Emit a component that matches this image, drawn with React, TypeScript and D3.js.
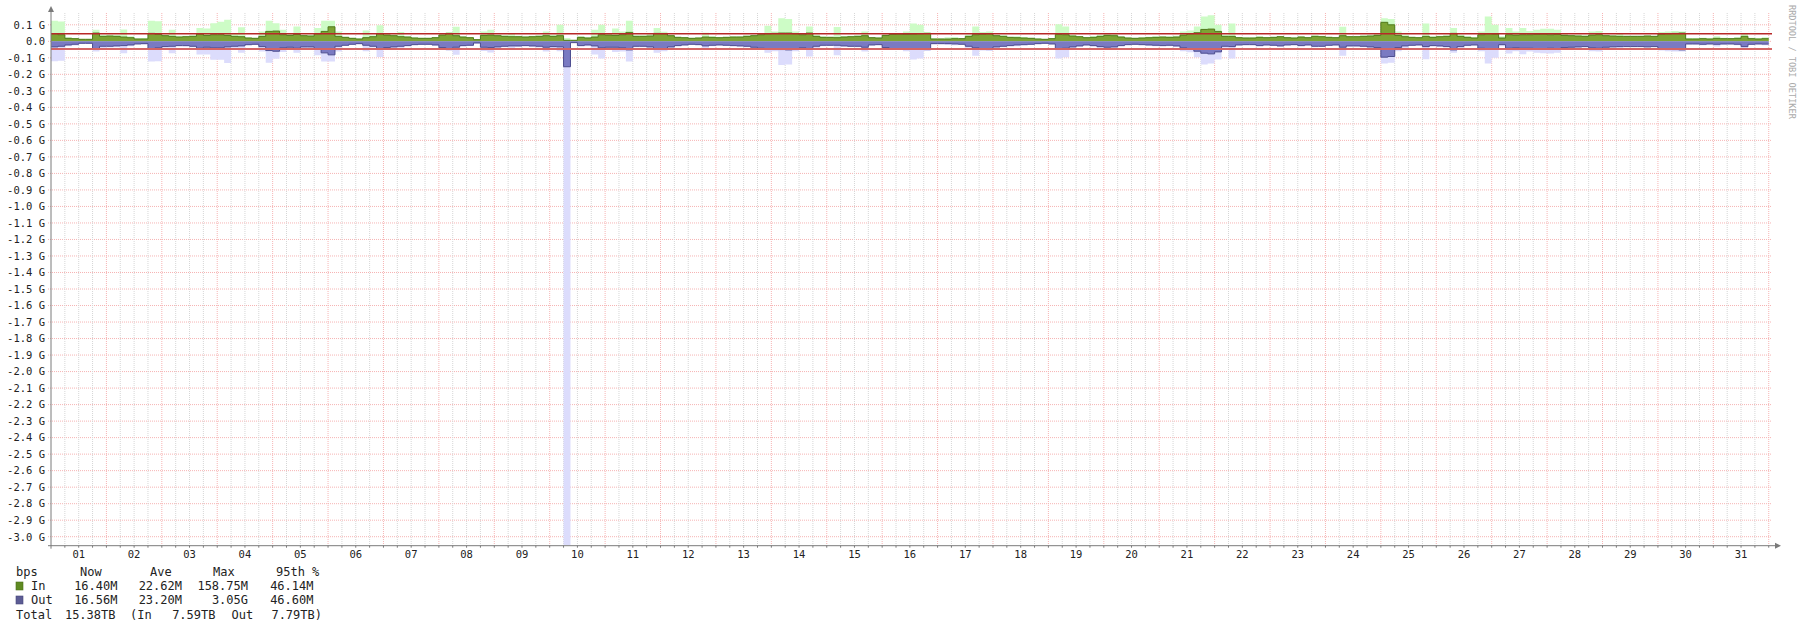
import React from "react";
import * as d3 from "d3";

// ---- data (Mbps, 3-hour bins, 31 days) ----
const dayLabels = ["01","02","03","04","05","06","07","08","09","10","11","12","13","14","15","16","17","18","19","20","21","22","23","24","25","26","27","28","29","30","31"];
const yTickValues = [100,0,-100,-200,-300,-400,-500,-600,-700,-800,-900,-1000,-1100,-1200,-1300,-1400,-1500,-1600,-1700,-1800,-1900,-2000,-2100,-2200,-2300,-2400,-2500,-2600,-2700,-2800,-2900,-3000];

const inAvg = [
  46,40,18,16,12,12,50,30, 32,30,26,22,14,14,48,42, 34,30,26,28,30,44,36,40, 40,36,30,28,20,18,30,60,
  62,40,36,42,34,32,46,60, 88,30,24,18,14,22,28,46, 38,34,28,26,20,18,18,22, 38,48,34,26,22,10,36,38,
  34,30,28,28,26,28,30,34, 30,34,6,6,24,20,26,40, 38,36,40,54,30,30,32,48, 46,34,24,22,18,20,26,24,
  22,24,26,26,30,34,40,46, 48,50,50,46,40,50,30,24, 24,22,26,28,30,34,22,20, 36,42,44,42,44,46,48,14,
  14,14,16,16,30,40,44,46, 34,30,24,22,20,18,14,12, 16,42,40,32,28,22,24,30, 36,34,26,20,18,20,22,24,
  26,24,26,38,46,52,72,74, 60,30,30,22,20,20,24,22, 24,28,22,20,26,22,30,28, 24,22,34,28,28,30,32,36,
  115,100,36,28,24,22,30,24, 28,30,48,30,24,20,40,46, 44,20,40,38,40,40,42,44, 40,42,36,34,32,30,38,40,
  34,32,30,30,30,30,32,30, 44,46,48,50,14,14,16,14, 18,16,16,18,30,16,14,16
];
const outAvg = [
  34,30,22,18,12,12,44,30, 30,28,26,22,16,14,48,40, 32,30,26,26,30,42,36,40, 40,34,30,28,20,18,32,56,
  60,40,36,42,34,34,48,70, 82,30,24,18,14,24,30,46, 38,34,30,26,20,18,18,22, 38,50,36,26,24,10,36,38,
  34,30,28,28,26,28,30,36, 32,34,154,8,26,22,28,40, 36,36,40,52,30,30,34,48, 48,34,26,22,18,20,28,24,
  22,24,26,28,30,36,42,48, 48,50,52,48,40,48,30,24, 24,24,28,30,30,36,22,20, 38,44,46,44,46,48,50,14,
  14,14,16,18,30,40,46,44, 34,30,26,22,20,18,14,12, 16,44,42,34,28,22,26,32, 36,34,26,20,18,20,22,24,
  26,24,28,40,48,60,72,76, 64,30,32,22,20,20,26,22, 24,28,22,20,26,22,30,30, 24,22,36,28,28,30,34,38,
  96,92,38,28,24,22,32,26, 28,32,52,32,24,22,42,48, 46,20,42,40,42,42,44,46, 42,44,38,36,34,32,40,42,
  36,34,32,32,32,32,34,32, 46,48,50,52,16,16,18,16, 18,16,16,18,32,18,16,17
];
const inMax = [
  125,120,25,20,15,15,70,38, 40,38,72,30,18,20,125,122, 40,70,34,34,36,80,78,110, 118,130,50,85,24,22,60,125,
  110,70,44,90,40,40,80,125, 125,60,28,22,18,66,36,98, 45,42,56,30,24,22,22,26, 44,55,88,30,26,14,60,70,
  40,36,46,34,30,34,36,60, 40,100,20,10,30,26,70,100, 48,78,60,125,36,36,44,80, 58,40,28,26,22,24,52,30,
  26,28,30,30,36,40,50,95, 60,140,135,60,48,90,40,30, 28,86,32,34,36,60,26,24, 40,48,50,60,108,100,56,18,
  18,24,26,20,40,90,56,60, 40,36,28,30,26,22,18,16, 20,104,90,40,32,26,32,40, 48,44,30,24,22,24,28,30,
  30,30,34,60,66,90,150,158, 100,40,108,26,24,24,30,26, 28,32,26,24,30,26,36,34, 28,26,88,32,32,36,40,44,
  140,135,60,40,28,26,108,30, 34,36,80,40,30,26,60,150, 100,30,80,60,80,62,70,76, 76,70,44,40,40,36,60,62,
  40,36,48,34,34,34,36,34, 56,60,62,60,20,20,22,20, 30,22,20,24,50,22,20,24
];
const outMax = [
  120,118,30,25,16,16,62,40, 38,36,72,30,18,20,122,120, 38,72,30,32,36,80,80,112, 112,132,52,70,26,22,62,130,
  105,64,44,70,40,44,85,122, 122,62,28,22,18,60,38,95, 45,44,52,30,24,22,22,28, 44,56,82,32,28,14,58,68,
  40,36,50,34,30,34,38,62, 40,60,3050,10,30,30,80,104, 48,64,62,122,36,36,46,70, 60,40,30,26,22,24,50,30,
  26,28,30,32,36,42,52,70, 60,144,140,60,50,92,42,30, 28,84,32,34,36,62,26,24, 40,48,50,60,110,104,58,18,
  18,22,24,20,40,88,56,58, 40,36,30,30,26,22,18,16, 20,104,96,40,32,26,32,40, 48,44,30,24,22,24,28,30,
  30,30,34,60,66,96,140,135, 110,40,104,26,24,24,30,26, 28,32,26,24,30,26,36,34, 28,26,88,32,32,36,40,44,
  134,130,60,40,28,26,108,30, 34,36,70,40,30,26,60,135, 100,30,74,60,78,62,70,72, 74,70,46,40,40,36,60,62,
  40,36,46,34,34,34,36,34, 56,60,62,62,20,20,24,20, 32,22,20,24,50,22,20,24
];
const pct95 = { inV: 46.14, outV: 46.6 };
const legendHeader = ["Now", "Ave", "Max", "95th %"];
const legendIn = ["16.40M", "22.62M", "158.75M", "46.14M"];
const legendOut = ["16.56M", "23.20M", "3.05G", "46.60M"];
const legendTotal = ["15.38TB", "7.59TB", "7.79TB"];

const STEP_H = 3;
const HOURS = 744;

export default function App() {
  const X0 = 51, PXH = 2.3088, XR = 1772;
  const YT = 13, YB = 545.7;
  const x = d3.scaleLinear().domain([0, HOURS]).range([X0, X0 + HOURS * PXH]);
  const y = d3.scaleLinear().domain([-3000, 100]).range([536.7, 24.8]);
  const mono = "'DejaVu Sans Mono', monospace";

  const toPts = (arr: number[], sign: number) => {
    const p = arr.map((v, i) => ({ t: i * STEP_H, v: sign * v }));
    p.push({ t: HOURS, v: sign * arr[arr.length - 1] });
    return p;
  };
  const area = d3.area<{ t: number; v: number }>()
    .x(d => x(d.t)).y0(y(0)).y1(d => Math.max(YT, Math.min(YB, y(d.v))))
    .curve(d3.curveStepAfter);
  const line = d3.line<{ t: number; v: number }>()
    .x(d => x(d.t)).y(d => y(d.v)).curve(d3.curveStepAfter);

  const minor: number[] = [];
  for (let h = 6; h <= HOURS; h += 6) minor.push(h);

  const legendCols = [117.5, 182, 248, 313.5];
  const headerX = [80, 150, 213, 276];
  const rowY = [576.2, 590.4, 604.4, 618.5];

  return (
    <svg width={1800} height={628} style={{ position: "absolute", left: 0, top: 0, background: "#fff" }}
      fontFamily={mono}>
      <rect x={0} y={0} width={1800} height={628} fill="#fff" />
      {/* horizontal grid */}
      {yTickValues.map(v => (
        <line key={"h" + v} x1={48} x2={XR} y1={y(v)} y2={y(v)} stroke="#f6b4b4" strokeWidth={1} strokeDasharray="1,1" />
      ))}
      {/* vertical grid */}
      {minor.map(h => (
        <line key={"v" + h} x1={x(h)} x2={x(h)} y1={YT} y2={YB}
          stroke={h % 24 === 0 ? "#f6b4b4" : "#d6d6d6"} strokeWidth={1} strokeDasharray="1,1" />
      ))}
      {/* max areas */}
      <path d={area(toPts(inMax, 1)) || ""} fill="#cdfcc6" />
      <path d={area(toPts(outMax, -1)) || ""} fill="#dcdcfc" />
      {/* avg areas */}
      <path d={area(toPts(inAvg, 1)) || ""} fill="#7ca434" />
      <path d={area(toPts(outAvg, -1)) || ""} fill="#7a7ac2" />
      <path d={line(toPts(inAvg, 1)) || ""} fill="none" stroke="#4f7a1c" strokeWidth={1} />
      <path d={line(toPts(outAvg, -1)) || ""} fill="none" stroke="#4d4d8e" strokeWidth={1} />
      {/* 95th percentile rules */}
      <line x1={X0} x2={XR} y1={y(pct95.inV)} y2={y(pct95.inV)} stroke="#b82828" strokeWidth={1.6} />
      <line x1={X0} x2={XR} y1={y(-pct95.outV)} y2={y(-pct95.outV)} stroke="#d46464" strokeWidth={2} />
      {/* axes */}
      <line x1={X0} x2={X0} y1={9} y2={YB + 3} stroke="#7a7a7a" strokeWidth={1} />
      <path d={`M${X0 - 3},${12} L${X0 + 3},${12} L${X0},${6} Z`} fill="#7a7a7a" />
      <line x1={X0 - 3} x2={1776} y1={YB} y2={YB} stroke="#7a7a7a" strokeWidth={1} />
      <path d={`M1775,${YB - 3} L1775,${YB + 3} L1781,${YB} Z`} fill="#7a7a7a" />
      {minor.map(h => (
        <line key={"t" + h} x1={x(h)} x2={x(h)} y1={YB} y2={YB + 2} stroke="#7a7a7a" strokeWidth={1} />
      ))}
      {/* y labels */}
      {yTickValues.map(v => (
        <text key={"yl" + v} x={45} y={y(v) + 3.8} textAnchor="end" fontSize={10.5} fill="#222">
          {v === 0 ? "0.0" : `${(v / 1000).toFixed(1)} G`}
        </text>
      ))}
      {/* x labels */}
      {dayLabels.map((lab, i) => (
        <text key={"xl" + lab} x={x(i * 24 + 12)} y={558} textAnchor="middle" fontSize={10.5} fill="#222">{lab}</text>
      ))}
      {/* watermark */}
      <text x={1789} y={5} transform="rotate(90 1789 5)" fontSize={8.6} fill="#aaaaaa">RRDTOOL / TOBI OETIKER</text>
      {/* legend */}
      <g fontSize={12} fill="#222">
        <text x={16} y={rowY[0]}>bps</text>
        {legendHeader.map((h, i) => (
          <text key={"lh" + i} x={headerX[i]} y={rowY[0]}>{h}</text>
        ))}
        <rect x={16} y={582} width={7} height={8} fill="#5f8a22" stroke="#4a6e18" strokeWidth={0.6} />
        <text x={31} y={rowY[1]}>In</text>
        {legendIn.map((s, i) => (
          <text key={"li" + i} x={legendCols[i]} y={rowY[1]} textAnchor="end">{s}</text>
        ))}
        <rect x={16} y={596} width={7} height={8} fill="#5c5c94" stroke="#46467a" strokeWidth={0.6} />
        <text x={31} y={rowY[2]}>Out</text>
        {legendOut.map((s, i) => (
          <text key={"lo" + i} x={legendCols[i]} y={rowY[2]} textAnchor="end">{s}</text>
        ))}
        <text x={16} y={rowY[3]}>Total</text>
        <text x={115.5} y={rowY[3]} textAnchor="end">{legendTotal[0]}</text>
        <text x={130} y={rowY[3]}>(In</text>
        <text x={215.5} y={rowY[3]} textAnchor="end">{legendTotal[1]}</text>
        <text x={231.5} y={rowY[3]}>Out</text>
        <text x={322} y={rowY[3]} textAnchor="end">{legendTotal[2] + ")"}</text>
      </g>
    </svg>
  );
}
